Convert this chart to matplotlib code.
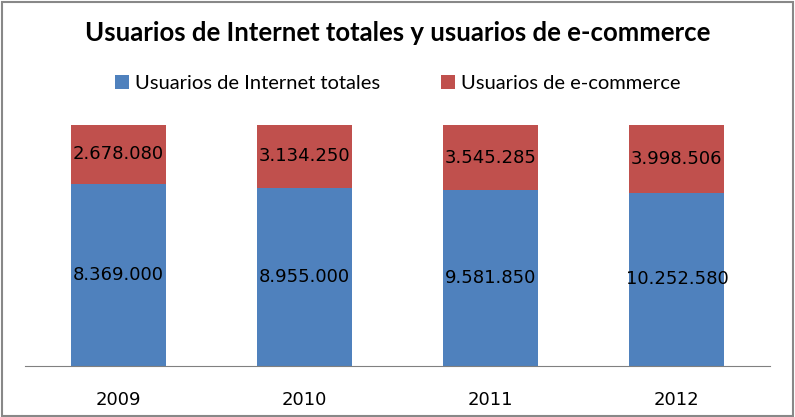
import matplotlib
matplotlib.use('Agg')
import matplotlib.pyplot as plt
import numpy as np
from matplotlib.patches import Rectangle

years = ['2009', '2010', '2011', '2012']
internet = [8369000, 8955000, 9581850, 10252580]
ecommerce = [2678080, 3134250, 3545285, 3998506]

plt.rcParams['font.family'] = ['Lato', 'DejaVu Sans']

def fmt(v):
    return f'{v:,}'.replace(',', '.')

total = np.array(internet) + np.array(ecommerce)
p_int = np.array(internet) / total
p_ec = np.array(ecommerce) / total
x = np.arange(len(years))

fig = plt.figure(figsize=(7.95, 4.17), dpi=100)
ax = fig.add_axes([0.0314, 0.1223, 0.9372, 0.5777])
b1 = ax.bar(x, p_int, width=0.51, color='#4F81BD', label='Usuarios de Internet totales')
b2 = ax.bar(x, p_ec, width=0.51, bottom=p_int, color='#C0504D', label='Usuarios de e-commerce')
for i in range(len(years)):
    ax.text(x[i], p_int[i] / 2, fmt(internet[i]), ha='center', va='center',
            fontsize=13, family='DejaVu Sans')
    ax.text(x[i], p_int[i] + p_ec[i] / 2, fmt(ecommerce[i]), ha='center', va='center',
            fontsize=13, family='DejaVu Sans')

ax.set_xlim(-0.5, 3.5)
ax.set_ylim(0, 1)
ax.set_xticks(x)
ax.set_xticklabels(years, fontsize=13, family='DejaVu Sans')
ax.tick_params(axis='x', length=0, pad=18)
ax.set_yticks([])
for s in ['top', 'right', 'left']:
    ax.spines[s].set_visible(False)
ax.spines['bottom'].set_color('#808080')

fig.text(0.5, 0.92, 'Usuarios de Internet totales y usuarios de e-commerce',
         ha='center', va='center', fontsize=18.5, fontweight='bold')
fig.legend(handles=[b1, b2], loc='center', bbox_to_anchor=(0.5, 0.8), ncol=2,
           frameon=False, fontsize=14.5, handlelength=0.7, handleheight=0.7,
           handletextpad=0.3, columnspacing=3.0)

fig.patches.append(Rectangle((0.002, 0.002), 0.996, 0.994, transform=fig.transFigure,
                             fill=False, edgecolor='#888888', linewidth=1.5))
fig.savefig('out.png', dpi=100)
